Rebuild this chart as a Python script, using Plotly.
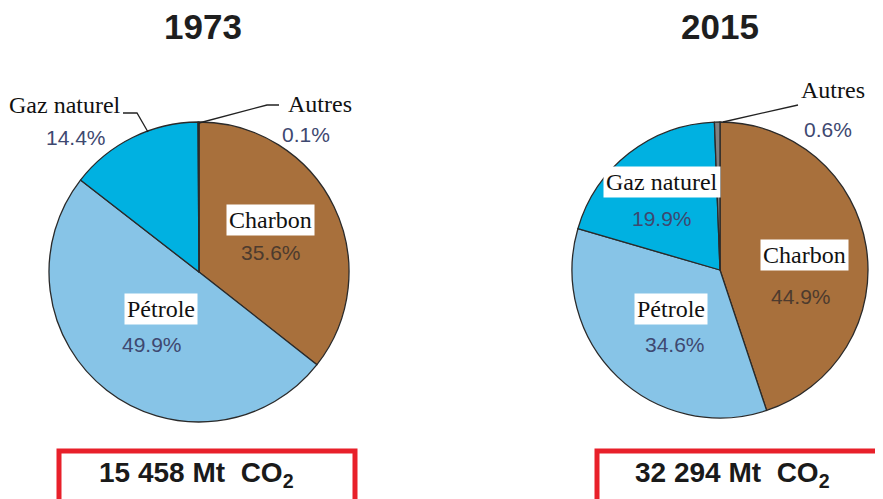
import plotly.graph_objects as go

# ---- data ----
sources = ["Charbon", "Pétrole", "Gaz naturel", "Autres"]
shares_1973 = [35.6, 49.9, 14.4, 0.1]
shares_2015 = [44.9, 34.6, 19.9, 0.6]
years = ["1973", "2015"]
totals = ["15 458", "32 294"]
unit = "Mt"
colors = ["#A8703C", "#87C4E7", "#00B1E1", "#808080"]

# page body has an 8px margin: figure is placed at (8, 8) in the window
OFF = 8
W, H = 883 - OFF, 499 - OFF
def px(x): return (x - OFF) / W
def py(y): return 1 - (y - OFF) / H

SANS = "Liberation Sans, Arial, sans-serif"
SERIF = "Liberation Serif, Times New Roman, serif"

fig = go.Figure()

pie_domains = [
    dict(x=[px(49), px(349)], y=[py(422), py(122)]),
    dict(x=[px(572), px(868)], y=[py(418), py(122)]),
]
for shares, dom, yr in zip([shares_1973, shares_2015], pie_domains, years):
    fig.add_trace(go.Pie(
        labels=sources, values=shares, sort=False, direction="clockwise",
        rotation=0, textinfo="none", showlegend=False, name=yr,
        marker=dict(colors=colors, line=dict(color="#2a2a2a", width=1.3)),
        domain=dom,
    ))

ann = []
# titles
for yr, cx in zip(years, [203, 720]):
    ann.append(dict(x=px(cx), y=py(26), text=f"<b>{yr}</b>", showarrow=False,
                    xanchor="center", yanchor="middle",
                    font=dict(family=SANS, size=35, color="#1e1e1e")))

# label positions (pixel centres): name_pos, pct_pos, boxed
label_pos = {
    "1973": {
        "Charbon": ((270, 220), (271, 252), True),
        "Pétrole": ((161, 309), (152, 344), True),
        "Gaz naturel": ((65, 105), (76, 137), False),
        "Autres": ((320, 104), (306, 134), False),
    },
    "2015": {
        "Charbon": ((804, 255), (801, 296), True),
        "Pétrole": ((671, 309), (675, 344), True),
        "Gaz naturel": ((662, 182), (662, 218), True),
        "Autres": ((833, 90), (828, 129), False),
    },
}
pct_color = {"Charbon": "#4d3b2e", "Pétrole": "#3e4870", "Gaz naturel": "#3e4870", "Autres": "#3e4870"}

for yr, shares in zip(years, [shares_1973, shares_2015]):
    for src, val in zip(sources, shares):
        (nx, ny), (vx, vy), boxed = label_pos[yr][src]
        ann.append(dict(x=px(vx), y=py(vy), text=f"{val:.1f}%", showarrow=False,
                        xanchor="center", yanchor="middle",
                        font=dict(family=SANS, size=21, color=pct_color[src])))
        ann.append(dict(x=px(nx), y=py(ny), text=src, showarrow=False,
                        xanchor="center", yanchor="middle",
                        bgcolor="white" if boxed else "rgba(0,0,0,0)", borderpad=2,
                        font=dict(family=SERIF, size=24, color="#111111")))

# totals
for tot, tx in zip(totals, [97, 633]):
    ann.append(dict(x=px(tx), y=py(474), text=f"<b>{tot} {unit}  CO<sub>2</sub></b>",
                    showarrow=False, xanchor="left", yanchor="middle",
                    font=dict(family=SANS, size=28, color="#1a1a1a")))

shapes = []
# red boxes
for x0, x1 in [(59, 355), (597, 900)]:
    shapes.append(dict(type="rect", xref="paper", yref="paper",
                       x0=px(x0), x1=px(x1), y0=py(451), y1=py(510),
                       line=dict(color="#E8202A", width=5), fillcolor="rgba(0,0,0,0)"))

# leader lines
def path(points):
    d = "M " + " L ".join(f"{px(x)},{py(y)}" for x, y in points)
    return dict(type="path", xref="paper", yref="paper", path=d,
                line=dict(color="#222222", width=1.3))
shapes.append(path([(123, 113), (137, 113), (148, 132)]))
shapes.append(path([(199, 123), (267, 105), (279, 105)]))
shapes.append(path([(723, 122), (798, 105)]))

fig.update_layout(
    width=W, height=H, margin=dict(l=0, r=0, t=0, b=0),
    paper_bgcolor="white", plot_bgcolor="white",
    annotations=ann, shapes=shapes,
)
fig.write_html("out.html")
